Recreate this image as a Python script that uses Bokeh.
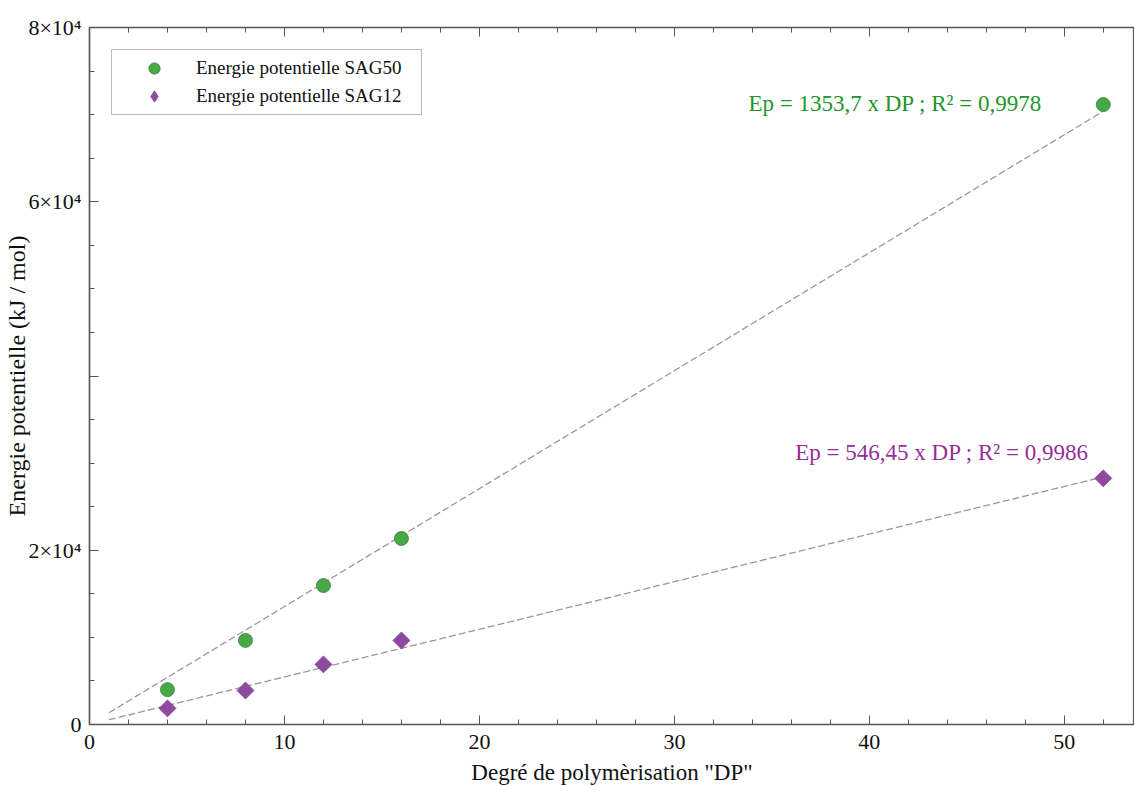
import math
from bokeh.plotting import figure
from bokeh.models import (Range1d, FixedTicker, LinearAxis, Legend, LegendItem, Label)
from bokeh.embed import file_html
from bokeh.resources import INLINE

# ---- data ----
dp = [4, 8, 12, 16, 52]
ep_sag50 = [4000, 9650, 15950, 21350, 71150]
ep_sag12 = [1850, 3900, 6900, 9650, 28250]
trend_x = [1, 52]
slope_sag50 = 1353.7
slope_sag12 = 546.45
label_sag50 = "Energie potentielle SAG50"
label_sag12 = "Energie potentielle SAG12"
eq_sag50 = "Ep = 1353,7 x DP ;  R² = 0,9978"
eq_sag12 = "Ep = 546,45 x DP ; R² = 0,9986"
x_title = 'Degré de polymèrisation "DP"'
y_title = "Energie potentielle (kJ / mol)"
x_major = [0, 10, 20, 30, 40, 50]
x_minor = list(range(0, 54, 2))
y_major = [0, 20000, 40000, 60000, 80000]
y_minor = list(range(0, 80001, 5000))
y_tick_labels = {0: "0", 20000: "2×10⁴", 40000: "", 60000: "6×10⁴", 80000: "8×10⁴"}

FONT = "Liberation Serif"
AX = "#555555"
GREEN = "#46a946"
PURPLE = "#8e4a9e"

p = figure(width=1134, height=787, output_backend="svg", toolbar_location=None,
           x_range=Range1d(0, 53.6), y_range=Range1d(0, 80000),
           min_border_left=89, min_border_top=27, min_border_bottom=63, min_border_right=0)
p.grid.visible = False
p.outline_line_color = AX
p.outline_line_width = 1.2

def style(ax, ticks, minor, overrides=None):
    ax.ticker = FixedTicker(ticks=ticks, minor_ticks=minor)
    ax.axis_line_color = AX
    ax.axis_line_width = 1.5
    ax.major_tick_line_color = AX
    ax.minor_tick_line_color = AX
    ax.major_tick_in = 9
    ax.major_tick_out = 0
    ax.minor_tick_in = 5
    ax.minor_tick_out = 0
    ax.major_label_text_font = FONT
    ax.major_label_text_font_size = "22px"
    ax.major_label_text_color = "#111111"
    ax.axis_label_text_font = FONT
    ax.axis_label_text_font_style = "normal"
    ax.axis_label_text_color = "#111111"
    if overrides:
        ax.major_label_overrides = overrides

xa = p.xaxis[0]
style(xa, x_major, x_minor)
xa.major_label_standoff = 10
xa.axis_label = x_title
xa.axis_label_text_font_size = "23px"
xa.axis_label_standoff = 8

ya = p.yaxis[0]
style(ya, y_major, y_minor, y_tick_labels)
ya.major_label_standoff = 8
ya.axis_label = y_title
ya.axis_label_text_font_size = "24px"
ya.axis_label_standoff = -5

top = LinearAxis()
style(top, x_major, x_minor, {t: "" for t in x_major})
top.major_label_standoff = 0
p.add_layout(top, "above")

# trend lines
p.line(trend_x, [slope_sag50 * v for v in trend_x], line_color="#999999", line_width=1.3, line_dash="7 3")
p.line(trend_x, [slope_sag12 * v for v in trend_x], line_color="#999999", line_width=1.3, line_dash="7 3")

r1 = p.scatter(dp, ep_sag50, marker="circle", size=14, fill_color=GREEN, line_color="#3a7a3a", line_width=0.8)
r2 = p.scatter(dp, ep_sag12, marker="square", size=12, angle=math.pi / 4,
               fill_color=PURPLE, line_color="#7a3d88", line_width=0.8)
# hidden legend proxy for the diamond (legend glyphs ignore marker angle)
r2_leg = p.scatter(dp, ep_sag12, marker="diamond", size=12, visible=False,
                   fill_color=PURPLE, line_color="#7a3d88", line_width=0.8)

legend = Legend(items=[LegendItem(label=label_sag50, renderers=[r1]),
                       LegendItem(label=label_sag12, renderers=[r2_leg])],
                location="top_left")
legend.margin = 22
legend.padding = 4
legend.spacing = 0
legend.glyph_width = 76
legend.glyph_height = 28
legend.label_height = 28
legend.label_width = 221
legend.label_standoff = 4
legend.label_text_font = FONT
legend.label_text_font_size = "19px"
legend.label_text_color = "#111111"
legend.border_line_color = "#777777"
legend.border_line_width = 1
legend.background_fill_alpha = 1
p.add_layout(legend, "center")

p.add_layout(Label(x=33.8, y=71300, text=eq_sag50, text_font=FONT, text_font_size="23px",
                   text_color="#22962a", text_baseline="middle"))
p.add_layout(Label(x=36.2, y=31200, text=eq_sag12, text_font=FONT, text_font_size="23px",
                   text_color="#952f97", text_baseline="middle"))

open("out.html", "w").write(file_html(p, INLINE))
